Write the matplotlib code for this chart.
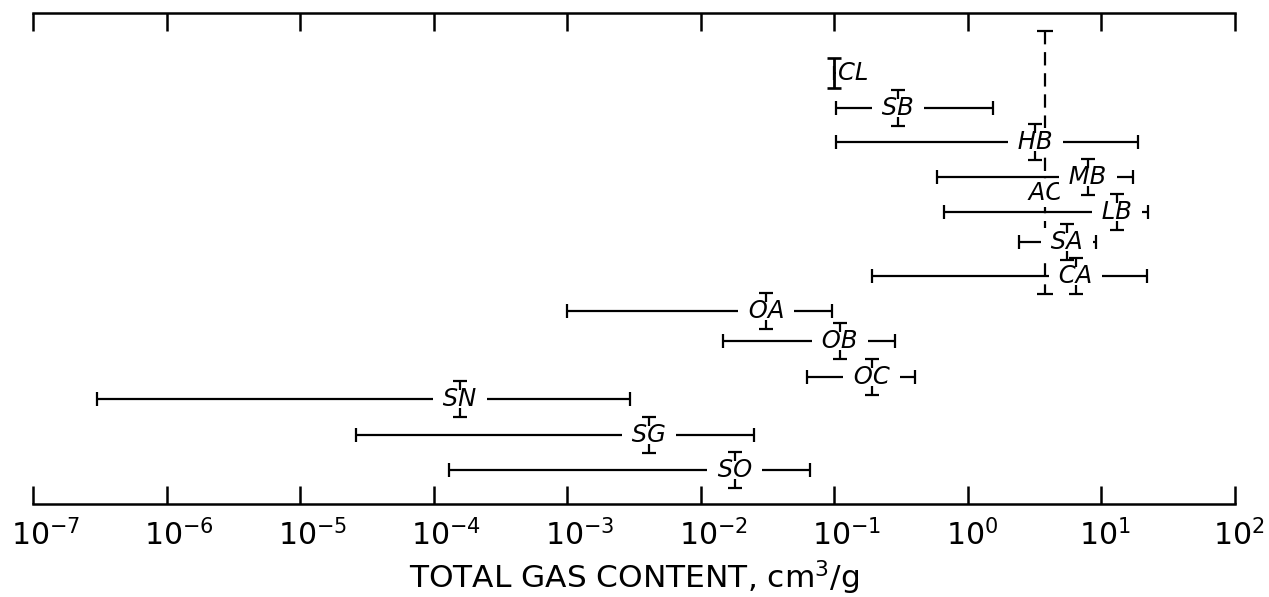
import matplotlib
matplotlib.use("Agg")
import matplotlib.pyplot as plt
from matplotlib.ticker import NullLocator
from matplotlib.transforms import ScaledTranslation

# sample groups, top to bottom, ranges of total gas content (cm3/g)
labels = ["CL", "SB", "HB", "MB", "LB", "SA", "CA", "OA", "OB", "OC", "SN", "SG", "SO"]
low = [0.10, 0.103, 0.103, 0.59, 0.66, 2.4, 0.19, 1.0e-3, 0.0147, 0.062, 3.0e-7, 2.6e-5, 1.3e-4]
high = [0.205, 1.54, 18.8, 17.2, 22.3, 9.1, 21.9, 0.096, 0.284, 0.40, 2.95e-3, 0.025, 0.066]
mean = [0.10, 0.30, 3.2, 7.9, 13.1, 5.5, 6.4, 0.031, 0.110, 0.19, 1.57e-4, 4.1e-3, 0.018]

# AC is drawn as a vertical dashed bar through the upper group
ac_label = "AC"
ac_value = 3.8

decades = [1e-7, 1e-6, 1e-5, 1e-4, 1e-3, 1e-2, 1e-1, 1e0, 1e1, 1e2]
tick_labels = [r"$10^{-7}$", r"$10^{-6}$", r"$10^{-5}$", r"$10^{-4}$", r"$10^{-3}$",
               r"$10^{-2}$", r"$10^{-1}$", r"$10^{0}$", r"$10^{1}$", r"$10^{2}$"]
xlabel = r"TOTAL GAS CONTENT, cm$^3$/g"

# layout: vertical level of each row (pixel rows of the 597 px figure)
row_y = [73, 108, 142, 177, 212, 242, 276, 311, 341, 377, 399, 435, 470]
ac_top, ac_bottom, ac_text_y = 31, 294, 193

W, H = 1269, 597
fig = plt.figure(figsize=(W / 100, H / 100), dpi=100)
ax = fig.add_axes([33 / W, 1 - 504 / H, (1235 - 33) / W, (504 - 13) / H])
ax.set_xscale("log")
ax.set_xlim(1e-7, 1e2)
ax.set_ylim(504, 13)

lw = 1.6
txt_kw = dict(fontsize=17.5, style="italic", ha="center", va="center", zorder=5,
              bbox=dict(boxstyle="square,pad=0.1", fc="white", ec="none"))

# AC dashed vertical bar
_, caps, bars = ax.errorbar(ac_value, (ac_top + ac_bottom) / 2, yerr=(ac_bottom - ac_top) / 2,
                            fmt="none", ecolor="black", elinewidth=lw, capsize=5.5,
                            capthick=lw, zorder=2)
bars[0].set_linestyle((0, (6, 3.5)))
ax.text(ac_value, ac_text_y, " " + ac_label + " ", **txt_kw)

for lab, lo, hi, m, y in zip(labels, low, high, mean, row_y):
    # range bar with end caps
    ax.errorbar(m, y, xerr=[[m - lo], [hi - m]], fmt="none", ecolor="black",
                elinewidth=lw, capsize=4.7, capthick=lw, zorder=3)
    if lab == "CL":
        # mean sits at the lower end: full I-bar, label to its right
        ax.errorbar(m, y, yerr=15, fmt="none", ecolor="black", elinewidth=lw + 0.4,
                    capsize=5.2, capthick=lw + 0.3, zorder=6)
        off = ScaledTranslation(3 / 72, 0, fig.dpi_scale_trans)
        kw = dict(txt_kw, ha="left")
        ax.text(m, y, lab + " ", transform=ax.transData + off, **kw)
    else:
        # mean marker: T above and inverted T below the label
        ax.vlines([m, m], [y - 18, y + 9], [y - 9, y + 18], color="black", lw=lw, zorder=6)
        ax.plot([m, m], [y - 18, y + 18], ls="none", marker="_", ms=10,
                mew=lw, color="black", zorder=6)
        ax.text(m, y, " " + lab + " ", **txt_kw)

# axes: only top and bottom lines with inward decade ticks
for side in ["left", "right"]:
    ax.spines[side].set_visible(False)
for side in ["top", "bottom"]:
    ax.spines[side].set_linewidth(1.8)
ax.set_yticks([])
ax.xaxis.set_minor_locator(NullLocator())
ax.set_xticks(decades, tick_labels)
ax.tick_params(axis="x", which="major", direction="in", length=13, width=1.8,
               top=True, bottom=True, labeltop=False, pad=11, labelsize=21.5)
shift = ScaledTranslation(-16 / 72, 0, fig.dpi_scale_trans)
for t in ax.get_xticklabels():
    t.set_horizontalalignment("left")
    t.set_transform(t.get_transform() + shift)

ax.set_xlabel(xlabel, fontsize=22.5, labelpad=5)

fig.savefig("out.png", dpi=100)
